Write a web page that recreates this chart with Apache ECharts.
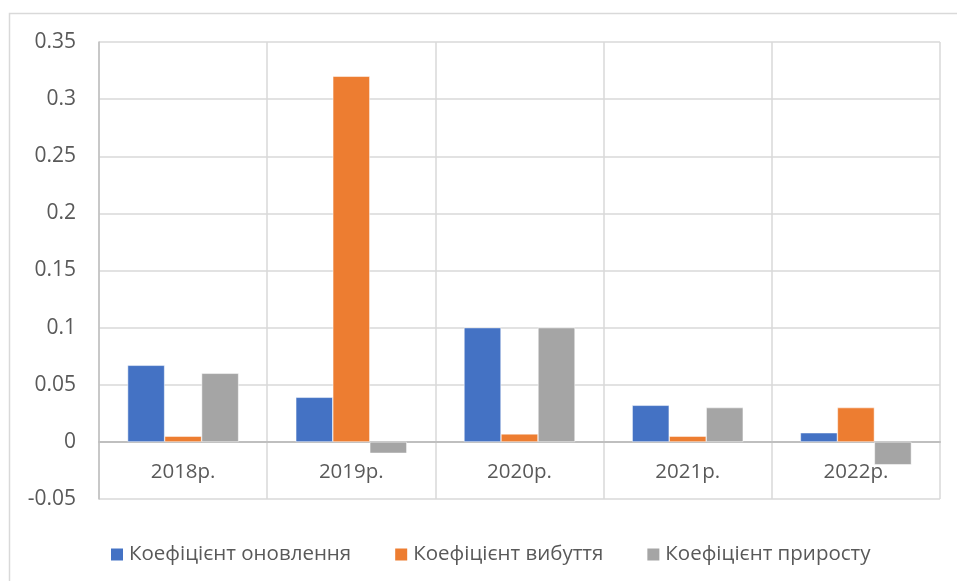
<!DOCTYPE html>
<html><head><meta charset="utf-8">
<script src="https://cdn.jsdelivr.net/npm/echarts@6/dist/echarts.min.js"></script>
<style>html,body{margin:0;padding:0;background:#fff}#c{width:957px;height:581px}</style>
</head><body><div id="c"></div>
<script>
const categories = ['2018р.', '2019р.', '2020р.', '2021р.', '2022р.'];
const seriesNames = ['Коефіцієнт оновлення', 'Коефіцієнт вибуття', 'Коефіцієнт приросту'];
const renewal = [0.067, 0.039, 0.1, 0.032, 0.008];
const disposal = [0.005, 0.32, 0.007, 0.005, 0.03];
const growth = [0.06, -0.01, 0.1, 0.03, -0.02];
const colors = ['#4472C4', '#ED7D31', '#A5A5A5'];
const fontFam = 'Open Sans';

const chart = echarts.init(document.getElementById('c'));
const data = [renewal, disposal, growth];
chart.setOption({
  animation: false,
  graphic: [{type: 'rect', shape: {x: 9.5, y: 13.5, width: 960, height: 600}, style: {fill: 'none', stroke: '#d9d9d9', lineWidth: 1.5}}],
  grid: {left: 99, right: 17, top: 42, bottom: 82},
  legend: {
    top: 539, left: 104, itemWidth: 14, itemHeight: 14, itemGap: 42,
    icon: 'rect',
    textStyle: {color: '#595959', fontSize: 20.5, fontFamily: fontFam}
  },
  xAxis: {
    type: 'category', data: categories, position: 'bottom', offset: -57,
    axisLine: {onZero: false, lineStyle: {color: '#bfbfbf', width: 2}},
    axisTick: {show: false},
    splitLine: {show: true, lineStyle: {color: '#d9d9d9', width: 1.5}},
    axisLabel: {color: '#595959', fontSize: 20.5, fontFamily: fontFam, margin: 20}
  },
  yAxis: {
    type: 'value', min: -0.05, max: 0.35, interval: 0.05,
    axisLine: {show: true, lineStyle: {color: '#bfbfbf', width: 1.5}},
    splitLine: {lineStyle: {color: '#d9d9d9', width: 1.5}},
    axisLabel: {color: '#595959', fontSize: 21, fontFamily: fontFam, margin: 23,
      formatter: v => String(Math.round(v * 100) / 100)}
  },
  series: seriesNames.map((n, i) => ({
    name: n, type: 'bar', data: data[i], barGap: '0%', barCategoryGap: '34%',
    itemStyle: {color: colors[i], borderColor: '#fff', borderWidth: 0.5}
  }))
});
</script></body></html>
